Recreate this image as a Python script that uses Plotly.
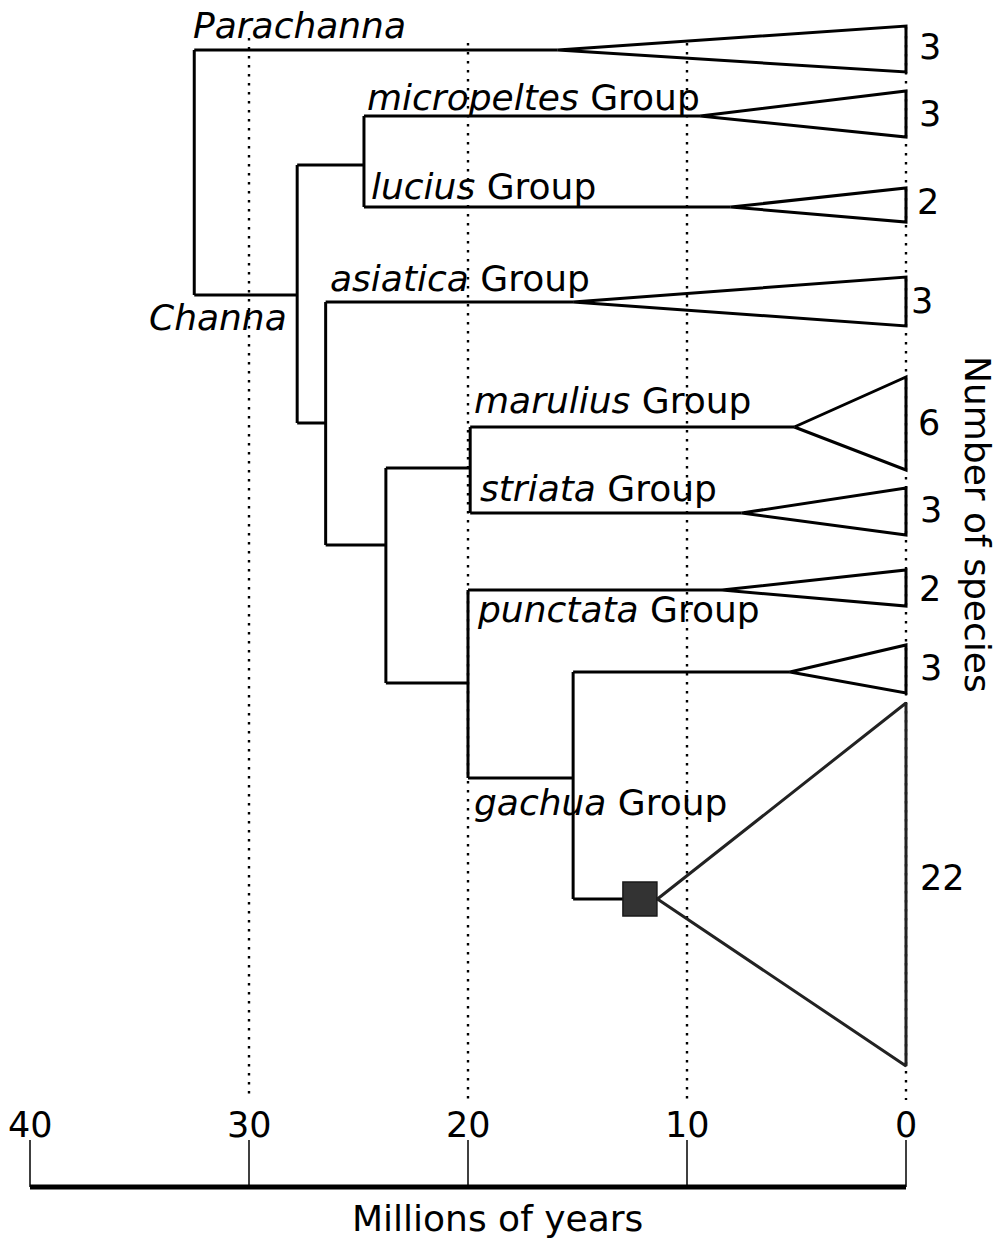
import plotly.graph_objects as go

# ---------------- data ----------------
clades = ["Parachanna", "micropeltes", "lucius", "asiatica", "marulius",
          "striata", "punctata", "gachua_a", "gachua"]
crown_age = [15.9, 9.4, 8.0, 15.2, 5.1, 7.5, 8.4, 5.3, 11.35]   # Ma, triangle tip
n_species = [3, 3, 2, 3, 6, 3, 2, 3, 22]

node_names = ["root", "Channa", "mic_luc", "asi_rest", "core", "mar_str", "pun_gac", "gac_node"]
node_age = [32.5, 27.8, 24.75, 26.5, 23.75, 19.9, 20.0, 15.2]
node_children = [["Parachanna", "Channa"], ["mic_luc", "asi_rest"], ["micropeltes", "lucius"],
                 ["asiatica", "core"], ["mar_str", "pun_gac"], ["marulius", "striata"],
                 ["punctata", "gac_node"], ["gachua_a", "gachua"]]

shift_age = [12.15]          # filled square on the gachua stem
tick_vals = [40, 30, 20, 10, 0]
tick_text = ["40", "30", "20", "10", "0"]
grid_ages = [30, 20, 10, 0]

# ---------------- layout (vertical positions in page-pixel-like units) ----------------
OFF = 8                      # default page body margin
W, H = 1003 - OFF, 1239 - OFF
PX_PER_MA = 21.9
tip_y = {"Parachanna": 50, "micropeltes": 116, "lucius": 207, "asiatica": 302,
         "marulius": 427, "striata": 513, "punctata": 590, "gachua_a": 672, "gachua": 899}
tri_top = {"Parachanna": 26, "micropeltes": 91, "lucius": 188, "asiatica": 277,
           "marulius": 377, "striata": 488, "punctata": 570, "gachua_a": 645, "gachua": 703}
tri_bot = {"Parachanna": 72, "micropeltes": 137, "lucius": 222, "asiatica": 326,
           "marulius": 470, "striata": 535, "punctata": 606, "gachua_a": 693, "gachua": 1066}
node_y = {"Channa": 295, "mic_luc": 165, "asi_rest": 423, "core": 545,
          "mar_str": 468, "pun_gac": 683, "gac_node": 778}
grid_top = {30: 38, 20: 43, 10: 43, 0: 27}
grid_bottom = 1100
axis_y = 1187
tick_top = 1140

age_of = dict(zip(clades, crown_age))
age_of.update(dict(zip(node_names, node_age)))
y_of = dict(tip_y)
y_of.update(node_y)

FONT = "DejaVu Sans"
fig = go.Figure()

# dotted time guides
gx, gy = [], []
for a in grid_ages:
    gx += [a, a, None]
    gy += [grid_top[a], grid_bottom, None]
fig.add_trace(go.Scatter(x=gx, y=gy, mode="lines", hoverinfo="skip",
                         line=dict(color="black", width=2.4, dash="2.5px,6.5px")))

# tree branches
bx, by = [], []
for name, age, kids in zip(node_names, node_age, node_children):
    ys = [y_of[k] for k in kids]
    bx += [age, age, None]
    by += [min(ys), max(ys), None]
    for k in kids:
        bx += [age, age_of[k], None]
        by += [y_of[k], y_of[k], None]
fig.add_trace(go.Scatter(x=bx, y=by, mode="lines", hoverinfo="skip",
                         line=dict(color="black", width=3)))

# collapsed clades (triangles)
for c, a in zip(clades, crown_age):
    col = "#222222" if c == "gachua" else "black"
    fig.add_trace(go.Scatter(x=[a, 0, 0, a], y=[tip_y[c], tri_top[c], tri_bot[c], tip_y[c]],
                             mode="lines", hoverinfo="skip",
                             line=dict(color=col, width=3)))

# square marker
fig.add_trace(go.Scatter(x=shift_age, y=[tip_y["gachua"]], mode="markers", hoverinfo="skip",
                         marker=dict(symbol="square", size=34, color="#333333",
                                     line=dict(color="#1a1a1a", width=1.5))))

# time axis
fig.add_trace(go.Scatter(x=[tick_vals[0], tick_vals[-1]], y=[axis_y, axis_y], mode="lines",
                         hoverinfo="skip", line=dict(color="black", width=5)))
tx, ty = [], []
for t in tick_vals:
    tx += [t, t, None]
    ty += [tick_top, axis_y, None]
fig.add_trace(go.Scatter(x=tx, y=ty, mode="lines", hoverinfo="skip",
                         line=dict(color="black", width=1.5)))

ann = []
for t, s in zip(tick_vals, tick_text):
    ann.append(dict(x=t, y=1125, text=s, xanchor="center", yanchor="middle",
                    font=dict(size=35, family=FONT, color="black")))
ann.append(dict(x=(906 - 497) / PX_PER_MA, y=1218, text="Millions of years",
                xanchor="center", yanchor="middle", font=dict(size=36, family=FONT, color="black")))

# clade labels (left x in Ma, y in layout units)
labels = [
    ("<i>Parachanna</i>", 32.6, 25),
    ("<i>micropeltes</i> Group", 24.64, 97),
    ("<i>lucius</i> Group", 24.47, 186),
    ("<i>asiatica</i> Group", 26.34, 278),
    ("<i>Channa</i>", 34.6, 317),
    ("<i>marulius</i> Group", 19.79, 400),
    ("<i>striata</i> Group", 19.5, 488),
    ("<i>punctata</i> Group", 19.64, 609),
    ("<i>gachua</i> Group", 19.79, 802),
]
for txt, x, y in labels:
    ann.append(dict(x=x, y=y, text=txt, xanchor="left", yanchor="middle", borderpad=0,
                    font=dict(size=36, family=FONT, color="black")))

# species counts
count_pos = {"Parachanna": (930, 47), "micropeltes": (930, 114), "lucius": (928, 202),
             "asiatica": (922, 301), "marulius": (929, 423), "striata": (931, 510),
             "punctata": (930, 589), "gachua_a": (931, 668), "gachua": (942, 878)}
for c, n in zip(clades, n_species):
    px, py = count_pos[c]
    ann.append(dict(x=(906 - px) / PX_PER_MA, y=py, text=str(n), xanchor="center", yanchor="middle",
                    font=dict(size=35, family=FONT, color="black")))

ann.append(dict(x=(906 - 978) / PX_PER_MA, y=524, text="Number of species", textangle=90,
                xanchor="center", yanchor="middle", font=dict(size=36, family=FONT, color="black")))

for a in ann:
    a.update(showarrow=False, xref="x", yref="y")

left_px = 30 - OFF           # page x of 40 Ma, inside the figure
right_px = W - (906 - OFF)   # figure pixels to the right of 0 Ma
fig.update_layout(
    width=W, height=H, margin=dict(l=0, r=0, t=0, b=0, pad=0),
    paper_bgcolor="white", plot_bgcolor="white", showlegend=False,
    xaxis=dict(range=[40 + left_px / PX_PER_MA, -right_px / PX_PER_MA], visible=False, fixedrange=True),
    yaxis=dict(range=[H + OFF, OFF], visible=False, fixedrange=True),
    annotations=ann,
)

fig.write_html("out.html")
